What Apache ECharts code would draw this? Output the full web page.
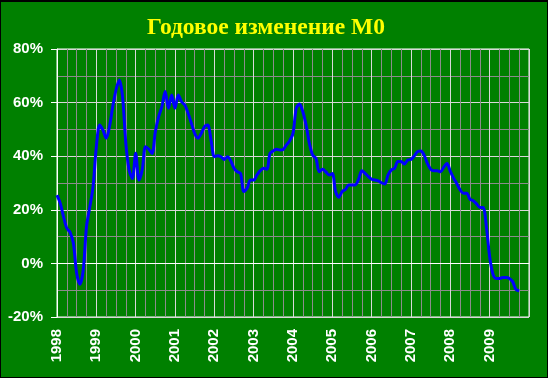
<!DOCTYPE html>
<html>
<head>
<meta charset="utf-8">
<script src="https://cdn.jsdelivr.net/npm/echarts@6/dist/echarts.min.js"></script>
<style>
html,body{margin:0;padding:0;background:#000;}
#c{position:absolute;left:1px;top:2px;width:546px;height:375px;background:#008000;}
</style>
</head>
<body>
<div id="c"></div>
<script>
const titleText = 'Годовое изменение М0';
const startYear = 1998;
const yearLabels = [1998,1999,2000,2001,2002,2003,2004,2005,2006,2007,2008,2009];
// monthly year-over-year change, %, Jan 1998 .. Oct 2009
const values = [
 25.5,22.4,17.4,13.1,11.6,7.5,-3.7,-7.8,-2.5,13.7,21,28.6,
 43.5,51.6,49.8,46.7,51,58.5,64.7,68.4,62.2,44.8,34.9,31.7,
 41.1,31.1,34.9,43.5,42.6,41,49.1,54.7,58.5,64.1,57.9,62.8,
 57.9,62.8,60.3,59.1,56,52.3,48.5,46.7,48.5,51,51.6,46,
 39.8,40.2,39.8,38.8,39.8,38.3,35.5,34.2,33.6,26.8,28,31.1,
 31.1,33,34.6,35.5,35.1,41.1,42,42.6,42.3,42.5,44.2,45.8,
 48.5,57.9,59.5,56.6,51.6,44.8,40.4,39.2,34.2,35.1,34.2,33,
 33.5,26.8,24.7,26.8,27.6,29.3,29.3,29.3,31.4,34.6,33.6,32.4,
 31.4,31.1,30.8,30.1,29.6,33,34.9,35.5,38,38,37.1,38.6,
 38.8,40.1,41.7,41.9,40.4,37.3,35.1,34.6,34.6,34.2,35.9,37.3,
 34.3,31.8,29.7,27.4,26.2,26.2,23.9,23.4,22.2,20.9,20.9,13.7,
 2.5,-4,-5.6,-5.6,-5.3,-5.3,-5.6,-6.8,-9.7,-10.2
];
const yMin = -20, yMax = 80, yStep = 20;

const seriesData = values.map((v,i)=>[startYear + i/12, v]);

const chart = echarts.init(document.getElementById('c'));
chart.setOption({
  backgroundColor: '#008000',
  animation: false,
  title: {
    text: titleText,
    left: 141, top: 9,
    textStyle: {color:'#ffff00', fontFamily:'Liberation Serif, Times New Roman, serif', fontWeight:'bold', fontSize:23.5}
  },
  grid: {left:56, right:18, top:47, bottom:60, show:true, borderColor:'#ffffff', borderWidth:1, containLabel:false},
  xAxis: {
    type:'value', min:yearLabels[0], max:yearLabels[yearLabels.length-1]+1, interval:1,
    axisLine:{show:true, lineStyle:{color:'#ffffff', width:1}},
    axisTick:{show:false},
    axisLabel:{
      rotate:90, margin:12, color:'#ffffff', fontFamily:'Liberation Sans, Arial, sans-serif', fontWeight:'bold', fontSize:15,
      showMaxLabel:false,
      formatter: v => yearLabels.indexOf(Math.round(v))>=0 ? String(Math.round(v)) : ''
    },
    splitLine:{show:true, lineStyle:{color:'#d8d8d8', width:1}},
    minorTick:{show:false, splitNumber:4},
    minorSplitLine:{show:true, lineStyle:{color:'#8c8c8c', width:1}}
  },
  yAxis: {
    type:'value', min:yMin, max:yMax, interval:yStep,
    axisLine:{show:true, lineStyle:{color:'#ffffff', width:1}},
    axisTick:{show:true, length:6, lineStyle:{color:'#ffffff'}},
    axisLabel:{margin:14, color:'#ffffff', fontFamily:'Liberation Sans, Arial, sans-serif', fontWeight:'bold', fontSize:15, formatter:'{value}%'},
    splitLine:{show:true, lineStyle:{color:'#d8d8d8', width:1}},
    minorTick:{show:false, splitNumber:2},
    minorSplitLine:{show:true, lineStyle:{color:'#8c8c8c', width:1}}
  },
  series: [{
    type:'line', data:seriesData, showSymbol:false, smooth:0.3,
    lineStyle:{color:'#0000ff', width:3}
  }]
});
</script>
</body>
</html>
